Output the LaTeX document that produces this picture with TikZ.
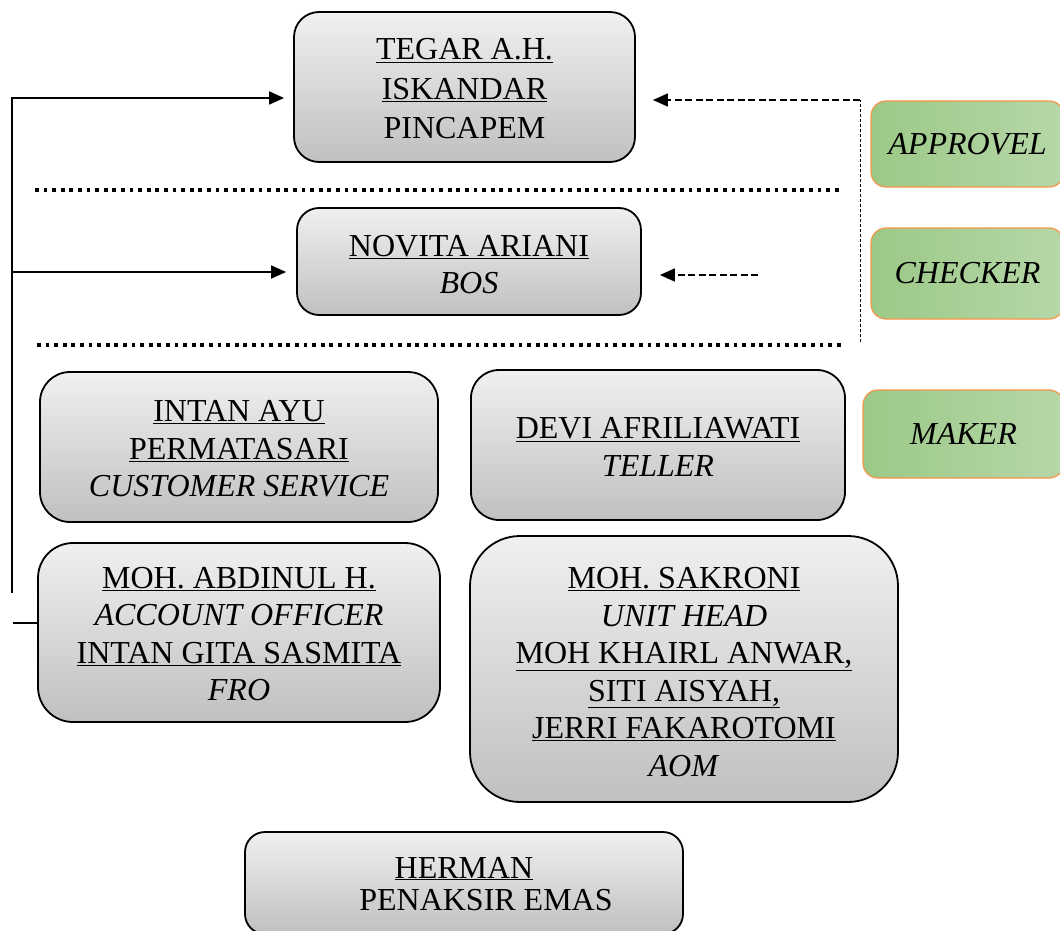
\documentclass[tikz,border=0pt]{standalone}
\usepackage{fontspec}
\setmainfont{Liberation Serif}
\usetikzlibrary{arrows.meta}
\definecolor{boxtop}{HTML}{F0F0F0}
\definecolor{boxbot}{HTML}{C0C0C0}
\definecolor{gleft}{HTML}{9CC987}
\definecolor{gright}{HTML}{B6D7A8}
\definecolor{gborder}{HTML}{F79646}
\newcommand{\myul}[1]{\underline{#1}}
\begin{document}
\begin{tikzpicture}[x=1pt,y=-1pt,
  greybox/.style={draw=black, line width=1.8pt, top color=boxtop, bottom color=boxbot,
    rounded corners=#1, inner sep=0pt, align=center, font=\fontsize{32}{37.5}\selectfont},
  greybox/.default=25pt,
  greenbox/.style={draw=gborder, line width=1.2pt, left color=gleft, right color=gright,
    rounded corners=15pt, inner sep=0pt, font=\fontsize{32}{37.5}\selectfont\itshape},
  plaintext/.style={inner sep=0pt, align=center, font=\fontsize{32}{37.5}\selectfont},
  solidarrow/.style={line width=1.8pt, -{Triangle[length=15pt,width=13pt]}},
  dasharrow/.style={line width=1.6pt, dash pattern=on 7pt off 3.5pt, -{Triangle[length=15pt,width=13pt]}},
  thindash/.style={line width=1pt, dash pattern=on 3pt off 2pt},
  separator/.style={line width=3.5pt, dash pattern=on 3.8pt off 4.8pt}
]
\useasboundingbox (0,0) rectangle (1060,931);

% grey boxes
\node[greybox, minimum width=341pt, minimum height=150pt] (tegar) at (464.5,87) {};
\node[plaintext] (tegartext) at (464.5,89)
  {\myul{TEGAR A.H.}\\[2pt]\myul{ISKANDAR}\\[2pt]PINCAPEM};
\node[greybox=22pt, minimum width=344pt, minimum height=107pt] (novita) at (469,261.5) {};
\node[plaintext] (novitatext) at (469,264.5)
  {\myul{NOVITA ARIANI}\\\textit{BOS}};
\node[greybox=30pt, minimum width=398pt, minimum height=150pt] (intan) at (239,447) {};
\node[plaintext] (intantext) at (239,449)
  {\myul{INTAN AYU}\\\myul{PERMATASARI}\\\textit{CUSTOMER SERVICE}};
\node[greybox=28pt, minimum width=374pt, minimum height=150pt] (devi) at (658,445) {};
\node[plaintext] (devitext) at (658,447)
  {\myul{DEVI AFRILIAWATI}\\\textit{TELLER}};
\node[greybox=35pt, minimum width=402pt, minimum height=179pt] (abdinul) at (239,632.5) {};
\node[plaintext] (abdinultext) at (239,634)
  {\myul{MOH. ABDINUL H.}\\\textit{ACCOUNT OFFICER}\\\myul{INTAN GITA SASMITA}\\\textit{FRO}};
\node[greybox=50pt, minimum width=428pt, minimum height=266pt] (sakroni) at (684,669) {};
\node[plaintext] (sakronitext) at (684,672)
  {\myul{MOH. SAKRONI}\\\textit{UNIT HEAD}\\\myul{MOH KHAIRL ANWAR,}\\\myul{SITI AISYAH,}\\\myul{JERRI FAKAROTOMI}\\\textit{AOM}};
\node[greybox=20pt, minimum width=438pt, minimum height=102pt] (herman) at (464,883) {};
\node[plaintext] (hermantext) at (464,884)
  {\myul{HERMAN}\\[-5pt]\hspace*{44pt}PENAKSIR EMAS};

% green boxes
\node[greenbox, minimum width=193pt, minimum height=86pt] (approvel) at (967.5,144) {APPROVEL};
\node[greenbox, minimum width=193pt, minimum height=91pt] (checker) at (967.5,273.5) {CHECKER};
\node[greenbox, minimum width=201pt, minimum height=88pt] (maker) at (963.5,434) {MAKER};

% separators
\coordinate (s1a) at (35,190); \coordinate (s1b) at (840,190);
\coordinate (s2a) at (37,345); \coordinate (s2b) at (845,345);
\draw[separator] (s1a) -- (s1b);
\draw[separator] (s2a) -- (s2b);

% left solid connectors
\coordinate (ltop) at (12,98);
\coordinate (lbot) at (12,593);
\coordinate (lmid) at (13,272);
\coordinate (lstub) at (13,623);
\draw[solidarrow] (lbot) -- (ltop) -- ([xshift=-9pt]ltop -| tegar.west);
\draw[solidarrow] (lmid) -- ([xshift=-10pt]lmid -| novita.west);
\draw[line width=1.2pt] (lstub) -- (lstub -| abdinul.west);

% right dashed connectors
\coordinate (rtop) at (860,100);
\coordinate (rbot) at (860,342);
\coordinate (rmid) at (758,275);
\draw[thindash] (rbot) -- (rtop);
\draw[dasharrow] (rtop) -- ([xshift=17pt]rtop -| tegar.east);
\draw[dasharrow] (rmid) -- ([xshift=18pt]rmid -| novita.east);
\end{tikzpicture}
\end{document}
